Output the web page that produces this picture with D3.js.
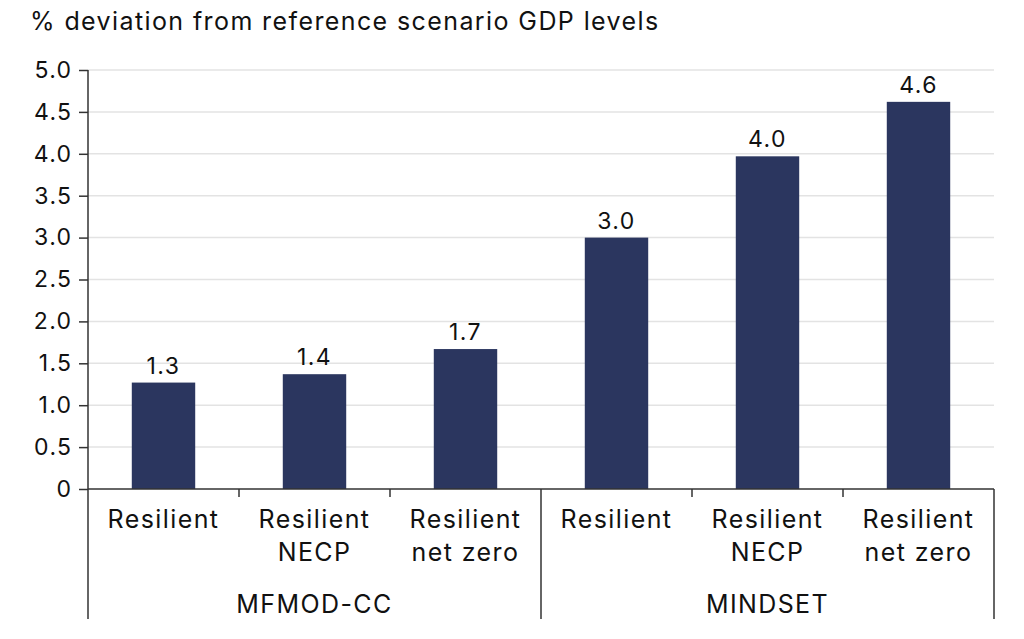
<!DOCTYPE html>
<html><head><meta charset="utf-8">
<script src="https://cdn.jsdelivr.net/npm/d3@7"></script>
<style>body{margin:0;background:#fff}svg{display:block}</style>
</head><body>
<svg id="c" width="1024" height="639"></svg>
<script>
const categories = ["Resilient", "Resilient\nNECP", "Resilient\nnet zero", "Resilient", "Resilient\nNECP", "Resilient\nnet zero"];
const groups = ["MFMOD-CC", "MFMOD-CC", "MFMOD-CC", "MINDSET", "MINDSET", "MINDSET"];
const groupNames = ["MFMOD-CC", "MINDSET"];
const values = [1.27, 1.37, 1.67, 3.0, 3.97, 4.62];
const yTicks = [0, 0.5, 1.0, 1.5, 2.0, 2.5, 3.0, 3.5, 4.0, 4.5, 5.0];
const title = "% deviation from reference scenario GDP levels";

const svg = d3.select("#c");
const font = "Inter, 'Noto Sans', sans-serif";
const ls = "1.4px";
const m = {left: 88, right: 994, top: 70, bottom: 489};
const idx = d3.range(values.length);
const x = d3.scaleBand().domain(idx).range([m.left, m.right]).paddingInner(0).paddingOuter(0);
const y = d3.scaleLinear().domain([0, 5]).range([m.bottom, m.top]);
const barW = x.bandwidth() * 0.42;

// title
svg.append("text").attr("x", 30).attr("y", 30).attr("font-family", font).attr("font-size", 25)
  .attr("letter-spacing", ls).attr("fill", "#111").text(title);

// gridlines
svg.append("g").selectAll("line").data(yTicks.filter(d => d > 0)).join("line")
  .attr("x1", m.left).attr("x2", m.right).attr("y1", d => y(d)).attr("y2", d => y(d))
  .attr("stroke", "#e3e3e3").attr("stroke-width", 1.5);

// bars
svg.append("g").selectAll("rect").data(idx).join("rect")
  .attr("x", i => x(i) + (x.bandwidth() - barW) / 2).attr("width", barW)
  .attr("y", i => y(values[i])).attr("height", i => y(0) - y(values[i]))
  .attr("fill", "#2b365f");

// value labels
svg.append("g").selectAll("text").data(idx).join("text")
  .attr("x", i => x(i) + x.bandwidth() / 2).attr("y", i => y(values[i]) - 9)
  .attr("text-anchor", "middle").attr("font-family", font).attr("font-size", 23)
  .attr("letter-spacing", ls).attr("fill", "#111")
  .text(i => d3.format(".1f")(values[i]));

// y axis
const yAxis = d3.axisLeft(y).tickValues(yTicks).tickSize(9).tickPadding(6.5)
  .tickFormat(d => d === 0 ? "0" : d3.format(".1f")(d));
const gy = svg.append("g").attr("transform", `translate(${m.left},0)`).call(yAxis);
gy.select(".domain").remove();
gy.selectAll(".tick line").attr("stroke", "#333").attr("stroke-width", 1.5);
gy.selectAll(".tick text").attr("font-family", font).attr("font-size", 23)
  .attr("letter-spacing", ls).attr("fill", "#111");
svg.append("line").attr("x1", m.left).attr("x2", m.left).attr("y1", m.top).attr("y2", 619)
  .attr("stroke", "#333").attr("stroke-width", 1.5);

// x axis baseline
svg.append("line").attr("x1", m.left).attr("x2", m.right).attr("y1", y(0)).attr("y2", y(0))
  .attr("stroke", "#333").attr("stroke-width", 1.5);
// inner ticks
svg.append("g").selectAll("line").data([1, 2, 4, 5]).join("line")
  .attr("x1", i => x(i)).attr("x2", i => x(i)).attr("y1", y(0)).attr("y2", y(0) + 8)
  .attr("stroke", "#333").attr("stroke-width", 1.5);
// group dividers
svg.append("g").selectAll("line").data([3]).join("line")
  .attr("x1", i => x(i)).attr("x2", i => x(i)).attr("y1", y(0)).attr("y2", 619)
  .attr("stroke", "#333").attr("stroke-width", 1.5);
svg.append("line").attr("x1", m.right).attr("x2", m.right).attr("y1", y(0)).attr("y2", 619)
  .attr("stroke", "#333").attr("stroke-width", 1.5);

// category labels
const cl = svg.append("g").selectAll("text").data(idx).join("text")
  .attr("text-anchor", "middle").attr("font-family", font).attr("font-size", 25)
  .attr("letter-spacing", ls).attr("fill", "#111");
cl.each(function(i) {
  const lines = categories[i].split("\n");
  d3.select(this).selectAll("tspan").data(lines).join("tspan")
    .attr("x", x(i) + x.bandwidth() / 2).attr("y", (d, k) => 528 + k * 33).text(d => d);
});

// group labels
svg.append("g").selectAll("text").data(groupNames).join("text")
  .attr("x", g => {
    const members = idx.filter(i => groups[i] === g);
    return (x(members[0]) + x(members[members.length - 1]) + x.bandwidth()) / 2;
  })
  .attr("y", 613).attr("text-anchor", "middle").attr("font-family", font).attr("font-size", 25)
  .attr("letter-spacing", ls).attr("fill", "#111").text(g => g);
</script>
</body></html>
